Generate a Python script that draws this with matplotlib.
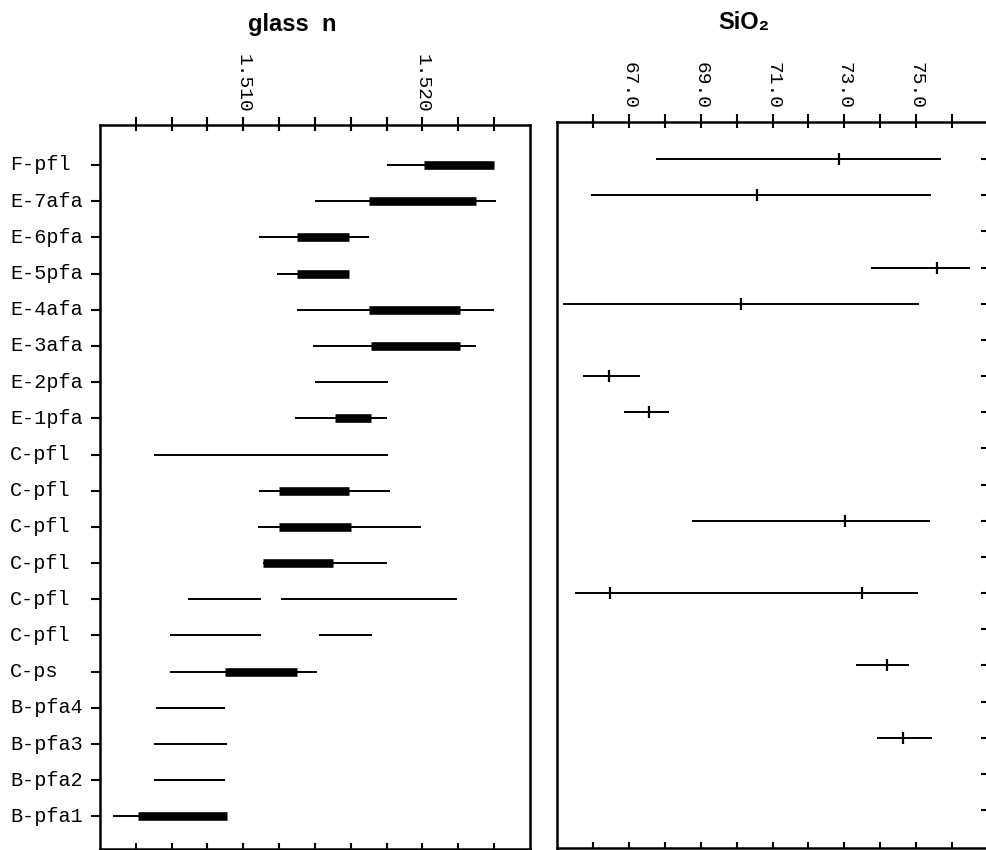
import matplotlib
matplotlib.use("Agg")
import matplotlib.pyplot as plt
import matplotlib.transforms as mtransforms
from matplotlib.ticker import FixedLocator, NullFormatter

# sample labels, top to bottom
labels = ["F-pfl", "E-7afa", "E-6pfa", "E-5pfa", "E-4afa", "E-3afa", "E-2pfa",
          "E-1pfa", "C-pfl", "C-pfl", "C-pfl", "C-pfl", "C-pfl", "C-pfl",
          "C-ps", "B-pfa4", "B-pfa3", "B-pfa2", "B-pfa1"]

# glass refractive index: full range (thin lines)
n_range_row = [0, 1, 2, 3, 4, 5, 6, 7, 8, 9, 10, 11, 12, 12, 13, 13, 14, 15, 16, 17, 18]
n_range_lo = [1.5180, 1.5140, 1.5109, 1.5119, 1.5130, 1.5139, 1.5140, 1.5129, 1.5050,
              1.5109, 1.5108, 1.5111, 1.5069, 1.5121, 1.5059, 1.5142, 1.5059, 1.5051,
              1.5050, 1.5050, 1.5027]
n_range_hi = [1.5240, 1.5241, 1.5170, 1.5159, 1.5240, 1.5230, 1.5181, 1.5180, 1.5181,
              1.5182, 1.5199, 1.5180, 1.5110, 1.5219, 1.5110, 1.5172, 1.5141, 1.5090,
              1.5091, 1.5090, 1.5091]

# glass refractive index: main mode (thick bars)
n_mode_row = [0, 1, 2, 3, 4, 5, 7, 9, 10, 11, 14, 18]
n_mode_lo = [1.5201, 1.5170, 1.5130, 1.5130, 1.5170, 1.5171, 1.5151, 1.5120, 1.5120,
             1.5111, 1.5090, 1.5041]
n_mode_hi = [1.5240, 1.5230, 1.5159, 1.5159, 1.5221, 1.5221, 1.5171, 1.5159, 1.5160,
             1.5150, 1.5130, 1.5091]

# SiO2 range and mean
sio2_row = [0, 1, 3, 4, 6, 7, 10, 12, 12, 14, 16]
sio2_lo = [67.75, 65.96, 73.74, 65.17, 65.71, 66.86, 68.75, 66.66, 65.50, 73.33, 73.92]
sio2_hi = [75.69, 75.42, 76.50, 75.09, 67.31, 68.11, 75.39, 75.04, 67.29, 74.81, 75.43]
sio2_mean = [72.85, 70.56, 75.57, 70.12, 66.45, 67.57, 73.02, 73.48, 66.47, 74.18, 74.64]

n_ticks = [1.504, 1.506, 1.508, 1.510, 1.512, 1.514, 1.516, 1.518, 1.520, 1.522, 1.524]
n_labels = [1.510, 1.520]
sio2_ticks = [66, 67, 68, 69, 70, 71, 72, 73, 74, 75, 76]
sio2_labels = [67, 69, 71, 73, 75]

MONO = "Liberation Mono"
SANS = ["Liberation Sans", "DejaVu Sans"]
W, H = 986, 850


def frac(x0, y_top, x1, y_bot):
    return [x0 / W, 1 - y_bot / H, (x1 - x0) / W, (y_bot - y_top) / H]


def style_axis(ax, ticks, label_vals, fmt):
    for s in ax.spines.values():
        s.set_linewidth(1.8)
    ax.xaxis.set_major_locator(FixedLocator(ticks))
    ax.xaxis.set_major_formatter(NullFormatter())
    ax.tick_params(axis="x", which="major", top=True, bottom=True, labeltop=False,
                   labelbottom=False, direction="in", length=4.5, width=1.5)
    # outward ticks along the top with rotated labels
    sec = ax.secondary_xaxis("top")
    sec.spines["top"].set_visible(False)
    sec.set_xticks(ticks)
    sec.set_xticklabels([fmt.format(t) if any(abs(t - v) < 1e-9 for v in label_vals) else ""
                         for t in ticks], rotation=270, fontfamily=MONO, fontsize=14)
    sec.tick_params(direction="out", length=6, width=1.5, pad=3)
    return sec


def main(out_path="out.png"):
    fig = plt.figure(figsize=(W / 100, H / 100), dpi=100)

    # ---- left panel: glass n
    ax1 = fig.add_axes(frac(100, 125, 530, 849))
    ax1.set_xlim(1.502, 1.526)
    ax1.set_ylim(18.9, -1.105)
    ax1.hlines(n_range_row, n_range_lo, n_range_hi, color="black", lw=1.4)
    ax1.hlines(n_mode_row, n_mode_lo, n_mode_hi, color="black", lw=6.2, capstyle="butt")
    style_axis(ax1, n_ticks, n_labels, "{:.3f}")
    ax1.set_yticks(range(len(labels)))
    ax1.set_yticklabels([])
    ax1.tick_params(axis="y", left=True, right=False, direction="out", length=6.5, width=1.5)

    trans = mtransforms.blended_transform_factory(fig.transFigure, ax1.transData)
    for i, lab in enumerate(labels):
        ax1.text(10 / W, i, lab, transform=trans, ha="left", va="center",
                 fontfamily=MONO, fontsize=14.5)

    # ---- right panel: SiO2 (right edge runs off the page)
    ax2 = fig.add_axes(frac(557, 122, 988, 848))
    ax2.set_xlim(65, 77)
    ax2.set_ylim(19.05, -1.023)
    ax2.hlines(sio2_row, sio2_lo, sio2_hi, color="black", lw=1.4)
    ax2.plot(sio2_mean, sio2_row, ls="none", marker="|", ms=8, mew=1.6, color="black")
    style_axis(ax2, sio2_ticks, sio2_labels, "{:.1f}")
    ax2.set_yticks(range(len(labels)))
    ax2.set_yticklabels([])
    ax2.tick_params(axis="y", left=False, right=True, direction="in", length=5, width=1.5)

    fig.text(292 / W, 1 - 25 / H, "glass  n", ha="center", va="center",
             fontfamily=SANS, fontweight="bold", fontsize=17)
    fig.text(744 / W, 1 - 23 / H, "SiO\u2082", ha="center", va="center",
             fontfamily=SANS, fontweight="bold", fontsize=17)

    fig.savefig(out_path, dpi=100)
    plt.close(fig)


if __name__ == "__main__":
    main()
